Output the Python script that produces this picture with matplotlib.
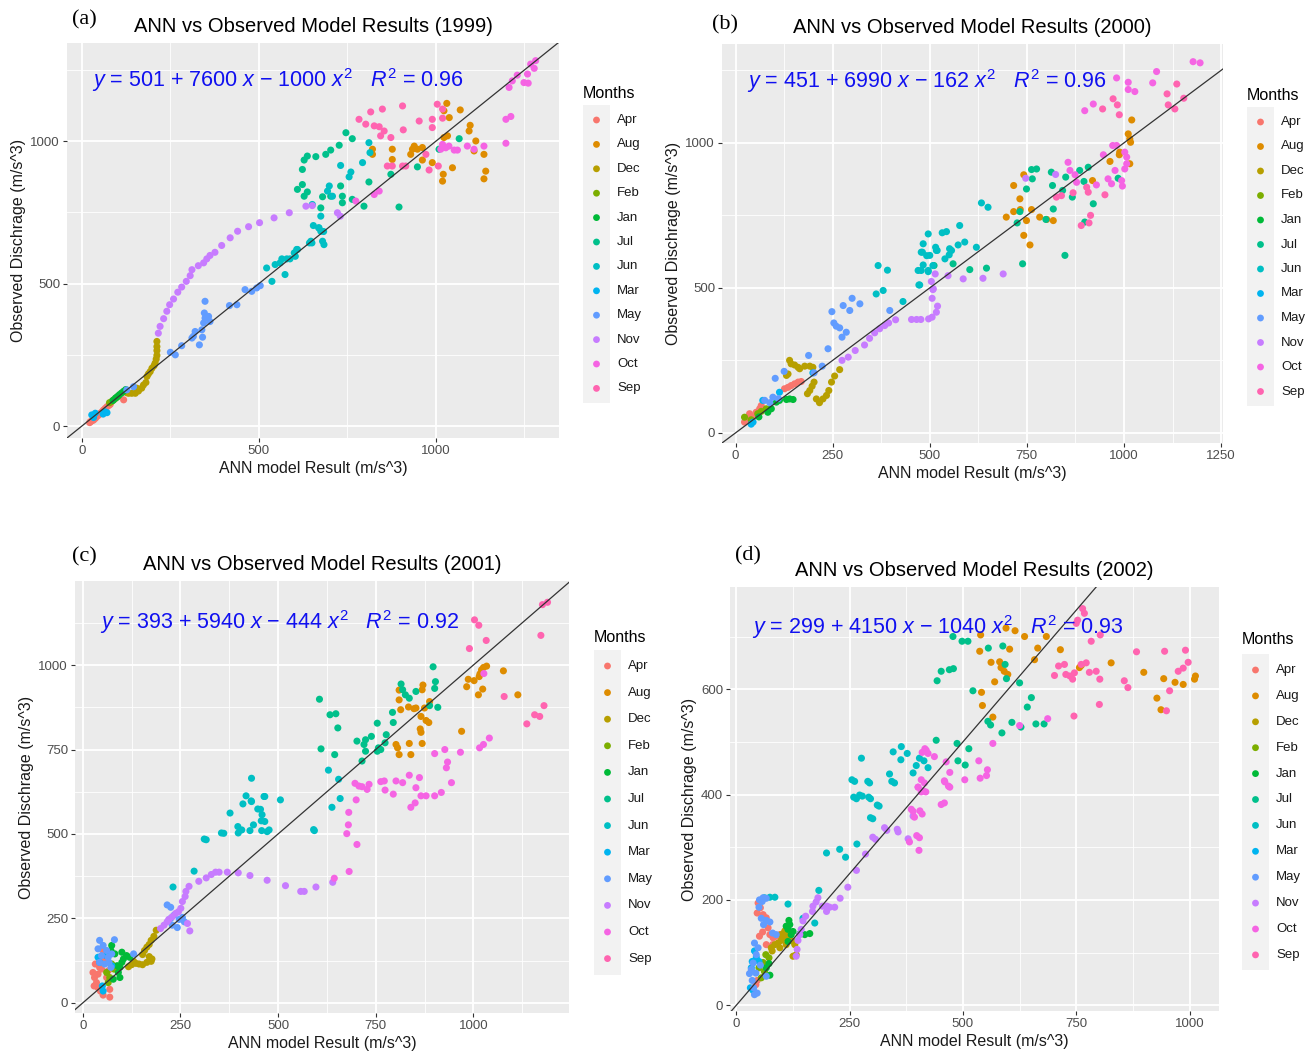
import matplotlib
matplotlib.use('Agg')
import matplotlib.pyplot as plt
from matplotlib.patches import Rectangle
from matplotlib.ticker import MultipleLocator

plt.rcParams['font.family'] = ['Liberation Sans', 'DejaVu Sans']
plt.rcParams['mathtext.fontset'] = 'custom'
plt.rcParams['mathtext.rm'] = 'Liberation Sans'
plt.rcParams['mathtext.it'] = 'Liberation Sans:italic'

months = ['Apr', 'Aug', 'Dec', 'Feb', 'Jan', 'Jul', 'Jun', 'Mar', 'May', 'Nov', 'Oct', 'Sep']
month_colors = ['#F8766D', '#DE8C00', '#B79F00', '#7CAE00', '#00BA38', '#00C08B',
                '#00BFC4', '#00B4F0', '#619CFF', '#C77CFF', '#F564E3', '#FF64B0']

# ---------------- (a) 1999 ----------------
a_apr_x = [22, 24, 28, 33, 38, 42, 47, 52, 57, 61, 66, 71, 76, 80, 118]
a_apr_y = [12, 15, 18, 21, 27, 33, 38, 45, 50, 56, 62, 68, 72, 76, 92]
a_aug_x = [1031, 1023, 1038, 1069, 1097, 1094, 1023, 1033, 1113, 1136, 1141, 1136, 1021, 1019, 1047, 990, 962, 948,
           934, 929, 939, 962, 877, 877, 821, 821, 1108]
a_aug_y = [1133, 1107, 1083, 1110, 1056, 1036, 1013, 1019, 1001, 954, 895, 868, 884, 860, 907, 925, 934, 972,
           972, 954, 983, 978, 972, 936, 972, 954, 966]
a_dec_x = [127, 132, 141, 151, 160, 155, 169, 174, 181, 184, 188, 193, 198, 204, 207, 210, 212, 212, 212, 212]
a_dec_y = [117, 115, 115, 115, 123, 133, 133, 144, 153, 174, 183, 191, 203, 212, 221, 235, 248, 265, 279, 297]
a_feb_x = [78, 84, 90, 96, 102]
a_feb_y = [82, 86, 92, 98, 104]
a_jan_x = [88, 95, 100, 106, 112, 118, 124]
a_jan_y = [90, 98, 103, 110, 116, 122, 128]
a_jul_x = [746, 764, 727, 703, 689, 661, 637, 628, 623, 623, 609, 637, 628, 680, 675, 703, 736, 736, 764, 797, 896,
           811, 873, 948, 1009, 1066, 731]
a_jul_y = [1030, 1009, 986, 969, 954, 946, 948, 934, 901, 848, 831, 822, 807, 805, 766, 807, 807, 784, 796, 772, 769,
           857, 884, 910, 972, 1009, 843]
a_jun_x = [537, 574, 522, 546, 560, 565, 579, 588, 603, 607, 643, 650, 654, 669, 683, 651, 675, 670, 675, 680, 684,
           647, 609, 600, 699, 694, 708, 731, 755, 760, 793, 811, 814]
a_jun_y = [508, 532, 555, 567, 573, 587, 587, 587, 596, 620, 643, 643, 704, 696, 683, 778, 737, 696, 684, 649, 637,
           649, 620, 608, 843, 825, 807, 915, 875, 892, 925, 995, 960]
a_mar_x = [28, 33, 38, 60, 66, 71]
a_mar_y = [39, 30, 45, 42, 50, 47]
a_may_x = [127, 146, 250, 264, 282, 311, 315, 320, 332, 339, 341, 344, 346, 348, 348, 358, 362, 417, 438, 461, 480,
           494, 504]
a_may_y = [127, 138, 259, 250, 282, 309, 315, 332, 285, 338, 312, 362, 397, 379, 438, 385, 367, 423, 426, 479, 473,
           485, 493]
a_nov_x = [216, 221, 231, 240, 248, 259, 271, 282, 295, 306, 311, 329, 344, 353, 362, 376, 395, 419, 440, 471, 502,
           543, 586, 633, 651, 722, 730]
a_nov_y = [326, 350, 377, 403, 426, 446, 470, 488, 508, 528, 549, 563, 573, 587, 599, 610, 634, 661, 684, 700, 714,
           731, 749, 772, 774, 749, 737]
a_oct_x = [1268, 1282, 1278, 1259, 1249, 1261, 1230, 1216, 1207, 1198, 1212, 1198, 1019, 1028, 1014, 1037, 1052,
           1061, 1089, 1108, 1136, 774, 826, 840]
a_oct_y = [1271, 1283, 1256, 1236, 1206, 1204, 1232, 1212, 1189, 1077, 1087, 993, 989, 977, 972, 983, 969,
           969, 983, 972, 983, 790, 813, 825]
a_sep_x = [783, 802, 816, 849, 826, 840, 854, 844, 873, 906, 908, 953, 1004, 1019, 990, 1019, 990, 863, 877, 906,
           915, 981, 1007, 972]
a_sep_y = [1077, 1060, 1103, 1113, 1054, 1051, 1036, 1019, 1013, 1124, 1040, 1071, 1130, 1113, 1077, 1081, 1048,
           913, 913, 913, 913, 899, 913, 954]

# ---------------- (b) 2000 ----------------
b_apr_x = [23, 32, 36, 45, 53, 62, 66, 126, 135, 143, 152, 161, 169]
b_apr_y = [37, 48, 66, 54, 71, 83, 94, 152, 157, 163, 169, 175, 177]
b_aug_x = [1020, 1011, 1015, 1017, 989, 988, 964, 1015, 919, 742, 716, 732, 733, 716, 762, 697, 783, 749, 801, 818,
           742, 758]
b_aug_y = [1079, 1031, 1014, 1002, 968, 959, 936, 928, 870, 890, 853, 807, 770, 763, 770, 744, 744, 732, 736, 732,
           681, 648]
b_dec_x = [139, 143, 152, 161, 165, 178, 191, 199, 135, 131, 202, 197, 191, 185, 208, 216, 225, 234, 240, 247, 255,
           268]
b_dec_y = [250, 238, 234, 226, 221, 230, 230, 226, 203, 198, 175, 161, 146, 135, 117, 104, 117, 129, 146, 175, 196,
           218]
b_feb_x = [23, 57, 66, 79, 40]
b_feb_y = [54, 66, 74, 83, 45]
b_jan_x = [83, 92, 105, 113, 131, 139, 148, 60]
b_jan_y = [71, 83, 106, 112, 115, 117, 115, 55]
b_jul_x = [511, 560, 603, 646, 762, 775, 764, 749, 732, 725, 813, 816, 850, 842, 867, 886, 897, 908, 818, 799, 848,
           921, 899, 739, 985]
b_jul_y = [577, 583, 563, 568, 908, 910, 876, 841, 763, 724, 899, 853, 882, 836, 813, 905, 867, 916, 772, 736, 612,
           790, 727, 583, 878]
b_jun_x = [367, 391, 362, 380, 431, 474, 478, 496, 492, 478, 517, 539, 556, 633, 650, 577, 590, 620, 573, 543, 532,
           496, 483, 515, 519, 551, 550, 500, 481, 470, 483, 508, 496, 472]
b_jun_y = [577, 561, 479, 491, 453, 510, 560, 560, 611, 623, 629, 600, 629, 793, 778, 715, 658, 640, 648, 694, 690,
           686, 652, 640, 629, 635, 614, 612, 623, 560, 579, 577, 556, 510]
b_mar_x = [45, 70, 113, 199, 40]
b_mar_y = [37, 112, 140, 207, 30]
b_may_x = [248, 277, 300, 294, 320, 253, 259, 268, 285, 274, 238, 188, 223, 202, 102, 125, 397, 75, 88, 96, 110]
b_may_y = [418, 439, 464, 422, 445, 379, 368, 362, 347, 330, 290, 267, 230, 207, 188, 212, 422, 112, 104, 123, 118]
b_nov_x = [274, 290, 308, 332, 345, 358, 371, 384, 394, 412, 453, 466, 477, 497, 506, 517, 520, 506, 508, 504, 514,
           547, 586, 637, 689, 747, 824, 509]
b_nov_y = [250, 261, 284, 303, 326, 345, 359, 370, 379, 390, 391, 391, 391, 393, 399, 416, 437, 464, 494, 522, 548,
           542, 531, 533, 548, 878, 891, 497]
b_oct_x = [1178, 1196, 1084, 1074, 1011, 1011, 1028, 981, 921, 899, 856, 861, 874, 878, 929, 959, 968, 977, 1002,
           1007, 1007, 1002, 981, 971, 947, 994, 996]
b_oct_y = [1280, 1276, 1246, 1207, 1209, 1184, 1177, 1224, 1134, 1111, 933, 905, 890, 864, 855, 876, 859, 905, 910,
           928, 951, 968, 991, 991, 959, 870, 851]
b_sep_x = [1111, 1114, 1131, 1154, 1136, 972, 983, 988, 945, 904, 908, 869, 839, 826, 914, 910, 890, 951]
b_sep_y = [1169, 1131, 1117, 1154, 1203, 1152, 1131, 1097, 1117, 847, 830, 828, 818, 813, 750, 724, 715, 821]

# ---------------- (c) 2001 ----------------
c_apr_x = [26, 30, 35, 39, 45, 52, 69, 69, 56, 52, 43, 32, 39, 61, 65, 29, 48, 58]
c_apr_y = [90, 75, 60, 45, 35, 23, 17, 40, 130, 155, 105, 115, 85, 75, 95, 50, 100, 120]
c_aug_x = [1017, 1021, 1026, 1034, 1015, 987, 1002, 983, 1024, 1013, 1077, 1114, 970, 871, 869, 888, 875, 866, 879,
           886, 864, 866, 853, 834, 848, 814, 810, 810, 802, 806, 810, 836, 840, 869]
c_aug_y = [974, 986, 993, 997, 966, 958, 954, 936, 929, 912, 983, 912, 804, 941, 927, 892, 873, 848, 836,
           830, 811, 801, 873, 876, 871, 868, 897, 926, 765, 755, 735, 768, 735, 768]
c_dec_x = [188, 182, 175, 170, 164, 158, 153, 170, 177, 175, 164, 153, 144, 136, 125, 117, 130]
c_dec_y = [215, 197, 185, 173, 165, 155, 143, 137, 130, 123, 120, 113, 115, 117, 113, 107, 123]
c_feb_x = [65, 69, 61, 74, 80]
c_feb_y = [60, 75, 90, 115, 100]
c_jan_x = [74, 72, 82, 100, 112, 100, 95, 91, 95, 78, 104, 88, 120]
c_jan_y = [170, 155, 145, 150, 140, 120, 105, 90, 75, 70, 130, 110, 135]
c_jul_x = [897, 903, 901, 909, 888, 815, 819, 826, 836, 853, 793, 795, 754, 777, 774, 757, 763, 754, 739, 724, 720,
           702, 715, 724, 606, 633, 648, 653, 610, 645]
c_jul_y = [995, 951, 931, 875, 880, 944, 927, 912, 902, 922, 860, 830, 828, 794, 770, 755, 750, 745, 789, 779, 765,
           775, 716, 745, 899, 853, 856, 814, 752, 735]
c_jun_x = [231, 285, 311, 316, 355, 361, 377, 397, 407, 398, 410, 418, 428, 432, 432, 437, 455, 466, 466, 477, 458,
           472, 506, 593, 629, 655, 659, 638, 591, 464, 448, 459, 457, 431]
c_jun_y = [343, 390, 485, 483, 503, 502, 562, 522, 512, 503, 589, 613, 510, 665, 596, 527, 573, 537, 611, 512, 510,
           507, 601, 510, 689, 662, 605, 579, 513, 611, 574, 557, 539, 598]
c_mar_x = [50, 52, 39, 43, 74, 60]
c_mar_y = [50, 35, 135, 120, 110, 140]
c_may_x = [43, 81, 39, 52, 61, 48, 65, 43, 56, 74, 67, 72, 130, 216, 225, 234, 225, 229, 242, 247, 255, 260]
c_may_y = [185, 187, 160, 170, 155, 140, 135, 120, 115, 145, 120, 105, 145, 290, 283, 260, 250, 230, 223, 247, 253,
           240]
c_nov_x = [199, 208, 216, 220, 229, 238, 245, 251, 255, 262, 264, 272, 297, 316, 329, 340, 349, 370, 398, 428, 472,
           519, 558, 567, 597, 640, 268, 274]
c_nov_y = [220, 230, 240, 247, 255, 265, 270, 280, 300, 315, 330, 345, 360, 370, 380, 387, 387, 387, 385, 377, 363,
           347, 330, 330, 343, 357, 235, 213]
c_oct_x = [1041, 1026, 1016, 967, 927, 934, 931, 901, 944, 918, 901, 879, 866, 853, 836, 862, 819, 802, 772, 763,
           774, 795, 840, 851, 733, 728, 715, 707, 697, 700, 681, 680, 676, 702, 682, 644, 1027]
c_oct_y = [784, 765, 755, 742, 750, 713, 696, 738, 652, 623, 613, 613, 613, 637, 674, 667, 652, 657, 657, 655,
           630, 618, 579, 592, 647, 632, 640, 642, 650, 601, 564, 527, 501, 469, 389, 369, 975]
c_sep_x = [1177, 1190, 1173, 1003, 1014, 1033, 990, 1137, 1157, 1170, 1181, 1079]
c_sep_y = [1179, 1186, 1088, 1134, 1118, 1073, 1049, 826, 853, 848, 880, 907]

# ---------------- (d) 2002 ----------------
d_apr_x = [48, 53, 46, 59, 66, 70, 58, 74, 81, 66, 80, 88, 96, 103, 51, 46, 43]
d_apr_y = [194, 185, 175, 172, 166, 147, 139, 134, 128, 115, 115, 131, 134, 136, 131, 47, 39]
d_aug_x = [1011, 1013, 986, 968, 943, 928, 937, 899, 827, 761, 757, 715, 658, 665, 684, 636, 615, 595, 539, 603,
           537, 562, 581, 584, 591, 599, 570, 541, 543, 566]
d_aug_y = [619, 625, 609, 613, 620, 583, 561, 632, 650, 645, 641, 675, 656, 678, 700, 700, 711, 716, 703, 676,
           672, 651, 652, 641, 634, 628, 614, 594, 569, 547]
d_dec_x = [77, 85, 92, 99, 107, 114, 123, 129, 110, 125, 132, 96, 79, 99, 107]
d_dec_y = [109, 115, 118, 123, 128, 131, 122, 115, 115, 93, 96, 109, 103, 134, 141]
d_feb_x = [50, 55, 62, 59, 65, 72]
d_feb_y = [71, 52, 64, 81, 96, 90]
d_jan_x = [116, 118, 110, 114, 121, 125, 140, 151, 162, 114, 72, 66, 74]
d_jan_y = [161, 153, 150, 144, 134, 140, 135, 134, 136, 121, 79, 71, 57]
d_jul_x = [478, 498, 511, 556, 588, 593, 596, 625, 651, 642, 522, 443, 452, 470, 479, 555, 561, 586, 608, 628, 661,
           679, 441, 487, 513, 489, 505]
d_jul_y = [700, 691, 691, 678, 682, 647, 620, 612, 584, 566, 597, 616, 634, 637, 639, 539, 532, 517, 537, 528, 534,
           534, 503, 497, 487, 464, 456]
d_jun_x = [261, 294, 349, 265, 278, 296, 315, 301, 199, 228, 241, 266, 182, 114, 173, 147, 85, 74, 62, 276, 255,
           290, 259, 272, 292, 311, 296, 346, 364, 377, 363, 338, 343, 390, 397, 404, 414, 423]
d_jun_y = [425, 422, 422, 392, 397, 392, 378, 354, 289, 296, 281, 306, 218, 192, 156, 165, 205, 205, 204, 469, 428,
           425, 395, 399, 395, 380, 356, 481, 491, 478, 466, 439, 425, 441, 455, 469, 464, 451]
d_mar_x = [40, 44, 35, 33, 50, 31, 37]
d_mar_y = [103, 91, 83, 71, 83, 33, 28]
d_may_x = [51, 59, 66, 57, 50, 55, 66, 74, 60, 80, 40, 48, 44, 37, 33, 29, 43, 35, 38, 46, 40, 53, 66, 88]
d_may_y = [200, 204, 203, 197, 186, 165, 161, 158, 153, 137, 118, 109, 96, 80, 68, 60, 61, 47, 33, 23, 20, 76, 55,
           134]
d_nov_x = [332, 357, 307, 285, 265, 246, 229, 217, 206, 199, 200, 190, 180, 176, 169, 168, 153, 147, 143, 140, 136,
           134, 132, 390, 355, 327, 301, 379]
d_nov_y = [332, 329, 315, 287, 256, 224, 203, 186, 186, 178, 188, 188, 204, 196, 188, 178, 169, 160, 144, 134, 123,
           106, 93, 359, 334, 337, 319, 316]
d_oct_x = [401, 415, 418, 408, 390, 393, 410, 460, 471, 452, 382, 404, 403, 423, 419, 416, 410, 437, 463, 471, 459,
           468, 504, 535, 538, 554, 552, 566, 625, 687, 408, 401, 412, 459, 386, 405, 398]
d_oct_y = [414, 422, 405, 405, 368, 357, 363, 424, 414, 381, 310, 318, 294, 478, 484, 487, 480, 472, 462, 442, 426,
           416, 428, 464, 431, 447, 436, 497, 531, 544, 428, 414, 407, 384, 372, 369, 322]
d_sep_x = [764, 768, 753, 750, 783, 803, 802, 794, 779, 772, 761, 746, 742, 736, 727, 724, 711, 702, 745, 801, 856,
           864, 883, 945, 956, 949, 975, 986, 997, 991]
d_sep_y = [753, 744, 731, 725, 691, 703, 619, 634, 632, 650, 647, 631, 619, 625, 628, 647, 644, 626, 549, 571, 616,
           603, 671, 672, 597, 559, 634, 640, 651, 674]

a_series = [(a_apr_x, a_apr_y), (a_aug_x, a_aug_y), (a_dec_x, a_dec_y), (a_feb_x, a_feb_y), (a_jan_x, a_jan_y),
            (a_jul_x, a_jul_y), (a_jun_x, a_jun_y), (a_mar_x, a_mar_y), (a_may_x, a_may_y), (a_nov_x, a_nov_y),
            (a_oct_x, a_oct_y), (a_sep_x, a_sep_y)]
b_series = [(b_apr_x, b_apr_y), (b_aug_x, b_aug_y), (b_dec_x, b_dec_y), (b_feb_x, b_feb_y), (b_jan_x, b_jan_y),
            (b_jul_x, b_jul_y), (b_jun_x, b_jun_y), (b_mar_x, b_mar_y), (b_may_x, b_may_y), (b_nov_x, b_nov_y),
            (b_oct_x, b_oct_y), (b_sep_x, b_sep_y)]
c_series = [(c_apr_x, c_apr_y), (c_aug_x, c_aug_y), (c_dec_x, c_dec_y), (c_feb_x, c_feb_y), (c_jan_x, c_jan_y),
            (c_jul_x, c_jul_y), (c_jun_x, c_jun_y), (c_mar_x, c_mar_y), (c_may_x, c_may_y), (c_nov_x, c_nov_y),
            (c_oct_x, c_oct_y), (c_sep_x, c_sep_y)]
d_series = [(d_apr_x, d_apr_y), (d_aug_x, d_aug_y), (d_dec_x, d_dec_y), (d_feb_x, d_feb_y), (d_jan_x, d_jan_y),
            (d_jul_x, d_jul_y), (d_jun_x, d_jun_y), (d_mar_x, d_mar_y), (d_may_x, d_may_y), (d_nov_x, d_nov_y),
            (d_oct_x, d_oct_y), (d_sep_x, d_sep_y)]

years = ['1999', '2000', '2001', '2002']
equations = [r'$y$ = 501 + 7600 $x$ − 1000 $x^2$   $R^2$ = 0.96',
             r'$y$ = 451 + 6990 $x$ − 162 $x^2$   $R^2$ = 0.96',
             r'$y$ = 393 + 5940 $x$ − 444 $x^2$   $R^2$ = 0.92',
             r'$y$ = 299 + 4150 $x$ − 1040 $x^2$   $R^2$ = 0.93']

W, H = 1314, 1063
fig = plt.figure(figsize=(W / 100, H / 100), dpi=100)


def px_box(l, t, r, b):
    return [l / W, 1 - b / H, (r - l) / W, (b - t) / H]


# panel layout: pixel box, limits, tick steps, equation position, panel tag, legend
panels = [
    dict(box=(67, 43, 559, 438), xlim=(-42, 1348), ylim=(-42, 1345), xt=500, yt=500,
         eq=(0.05, 0.907), tag='(a)', tagpos=(72, 20), leg=(583, 93, 120, 24.4), series=a_series),
    dict(box=(722, 44, 1223, 443), xlim=(-35, 1255), ylim=(-35, 1341), xt=250, yt=500,
         eq=(0.05, 0.907), tag='(b)', tagpos=(712, 25), leg=(1247, 95, 122, 24.5), series=b_series),
    dict(box=(75, 581, 569, 1013), xlim=(-20, 1245), ylim=(-30, 1249), xt=250, yt=250,
         eq=(0.05, 0.905), tag='(c)', tagpos=(72, 557), leg=(594, 637, 666, 26.6), series=c_series),
    dict(box=(730, 587, 1219, 1011), xlim=(-14, 1065), ylim=(-11, 794), xt=250, yt=200,
         eq=(0.045, 0.906), tag='(d)', tagpos=(735, 556), leg=(1242, 640, 670, 25.9), series=d_series),
]

ov = fig.add_axes([0, 0, 1, 1])
ov.set_xlim(0, W)
ov.set_ylim(H, 0)
ov.axis('off')

for i, p in enumerate(panels):
    ax = fig.add_axes(px_box(*p['box']))
    ax.set_facecolor('#EBEBEB')
    for s in ax.spines.values():
        s.set_visible(False)
    ax.set_xlim(*p['xlim'])
    ax.set_ylim(*p['ylim'])
    ax.xaxis.set_major_locator(MultipleLocator(p['xt']))
    ax.yaxis.set_major_locator(MultipleLocator(p['yt']))
    ax.xaxis.set_minor_locator(MultipleLocator(p['xt'] / 2))
    ax.yaxis.set_minor_locator(MultipleLocator(p['yt'] / 2))
    ax.grid(which='major', color='white', lw=1.3)
    ax.grid(which='minor', color='white', lw=0.6)
    ax.set_axisbelow(True)
    ax.tick_params(which='major', length=3, color='#333333', labelsize=9.5, labelcolor='#4D4D4D', pad=2)
    ax.tick_params(which='minor', length=0)

    for (xs, ys), col in zip(p['series'], month_colors):
        ax.scatter(xs, ys, s=26, color=col, edgecolors='none', zorder=3)

    lo = min(p['xlim'][0], p['ylim'][0])
    hi = max(p['xlim'][1], p['ylim'][1])
    ax.plot([lo, hi], [lo, hi], color='#333333', lw=0.9, zorder=4)

    ax.text(p['eq'][0], p['eq'][1], equations[i], transform=ax.transAxes, color='#1010F0',
            fontsize=15.5, va='center', ha='left', zorder=5)

    ax.set_title('ANN vs Observed Model Results (%s)' % years[i], fontsize=14.5, pad=8)
    ax.set_xlabel('ANN model Result (m/s^3)', fontsize=11.5, color='#1A1A1A', labelpad=3)
    ax.set_ylabel('Observed Dischrage (m/s^3)', fontsize=11.5, color='#1A1A1A', labelpad=3)

    tx, ty = p['tagpos']
    ov.text(tx, ty, p['tag'], fontsize=16, family='Liberation Serif', va='center', ha='left')

    x0, yt_, y0, step = p['leg']
    ov.text(x0, yt_, 'Months', fontsize=11.5, va='center', ha='left')
    ov.add_patch(Rectangle((x0, y0 - step * 0.6), 27, step * 12.2, color='#F2F2F2', lw=0))
    for k, (m, col) in enumerate(zip(months, month_colors)):
        ov.scatter([x0 + 13.5], [y0 + k * step], s=24, color=col, edgecolors='none')
        ov.text(x0 + 34, y0 + k * step, m, fontsize=9.5, va='center', ha='left', color='#1A1A1A')

fig.savefig('out.png', dpi=100)
